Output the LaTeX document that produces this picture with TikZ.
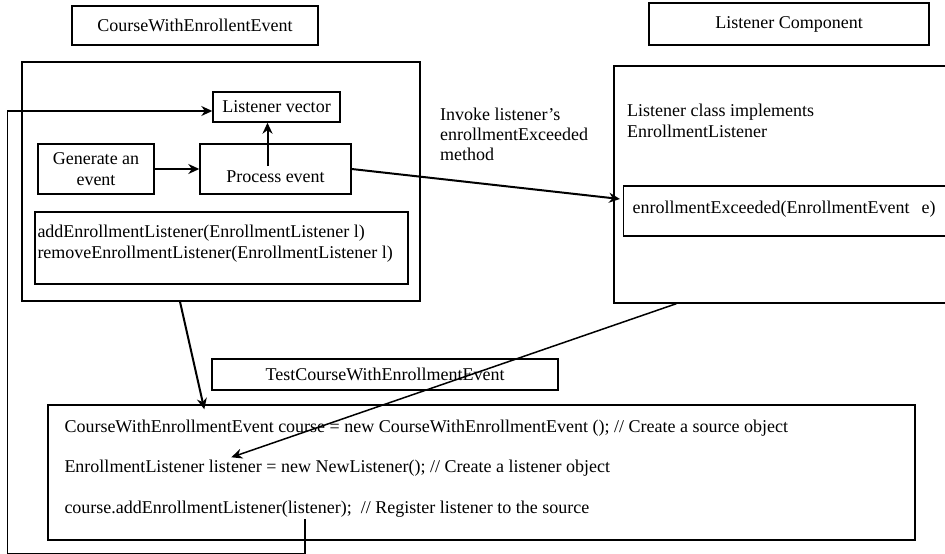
\documentclass[tikz,border=0pt]{standalone}
\usepackage{fontspec}
\setmainfont{Liberation Serif}
\usetikzlibrary{arrows.meta}

\begin{document}
\begin{tikzpicture}[x=1pt,y=-1pt,
    every node/.style={font=\fontsize{18}{21}\selectfont},
    box/.style={draw, line width=1.4pt, inner sep=2pt},
    txt/.style={inner sep=2pt, align=left},
    arr/.style={-{Stealth[length=11pt,width=10pt]}, line width=2pt},
    thinarr/.style={-{Stealth[length=11pt,width=10pt]}, line width=1.5pt}]
  \useasboundingbox (0,0) rectangle (945,554);
  \clip (0,0) rectangle (945,554);

  \node[box, minimum width=246, minimum height=39] (srcTitle) at (195,25.5) {CourseWithEnrollentEvent};
  \node[box, minimum width=398, minimum height=239] (srcBox) at (221,181.5) {};
  \node[box, minimum width=127, minimum height=30] (vec) at (276.5,107) {Listener vector};
  \node[box, minimum width=116, minimum height=50, align=center] (gen) at (96,169) {Generate an\\event};
  \node[box, minimum width=151, minimum height=50, text height=30pt, text depth=4pt] (proc) at (275.5,169) {Process event};
  \node[box, minimum width=373, minimum height=72] (api) at (221.5,248) {};
  \node[txt, anchor=north west] (apiText) at ([shift={(1,11.5)}]api.north west) {addEnrollmentListener(EnrollmentListener l)\\removeEnrollmentListener(EnrollmentListener l)};

  \node[txt, anchor=west, font=\fontsize{18}{20}\selectfont] (invoke) at (438,134.5) {Invoke listener's\\enrollmentExceeded\\method};

  \node[box, minimum width=280, minimum height=42] (lisTitle) at (789,24) {Listener Component};
  \node[box, minimum width=346, minimum height=237] (lisBox) at (787,184.5) {};
  \node[txt, anchor=west] (lisClass) at (625,121) {Listener class implements\\EnrollmentListener};
  \node[box, anchor=west, minimum width=340, minimum height=50, text width=322, align=left, inner xsep=9pt, text depth=8pt] (meth) at (623,211) {enrollmentExceeded(EnrollmentEvent\ \ e)};

  \node[box, minimum width=346, minimum height=31] (testTitle) at (385,374.5) {TestCourseWithEnrollmentEvent};
  \node[box, minimum width=867, minimum height=135] (code) at (481.5,472.5) {};
  \node[txt, anchor=north west] (codeText) at ([shift={(15,13.5)}]code.north west) {CourseWithEnrollmentEvent course = new CourseWithEnrollmentEvent (); // Create a source object\\[19.5pt]EnrollmentListener listener = new NewListener(); // Create a listener object\\[19.5pt]course.addEnrollmentListener(listener);\ \ // Register listener to the source};

  \draw[arr] (gen) -- (proc);
  \draw[arr] ([shift={(-8,-3)}]proc.center) coordinate (procTop) -- (procTop |- vec.south);
  \draw[arr] (proc.east) -- ([shift={(-3,-12)}]meth.west);
  \draw[arr] ([xshift=-41pt]srcBox.south) -- ([shift={(157,5)}]code.north west);
  \draw[thinarr] ([xshift=63pt]lisBox.south west) -- ([shift={(184,53)}]code.north west);
  \coordinate (regPt) at (305,519);
  \draw[thinarr] (regPt) |- (7.5,553.5) |- ([yshift=-4pt]vec.west);
\end{tikzpicture}
\end{document}
